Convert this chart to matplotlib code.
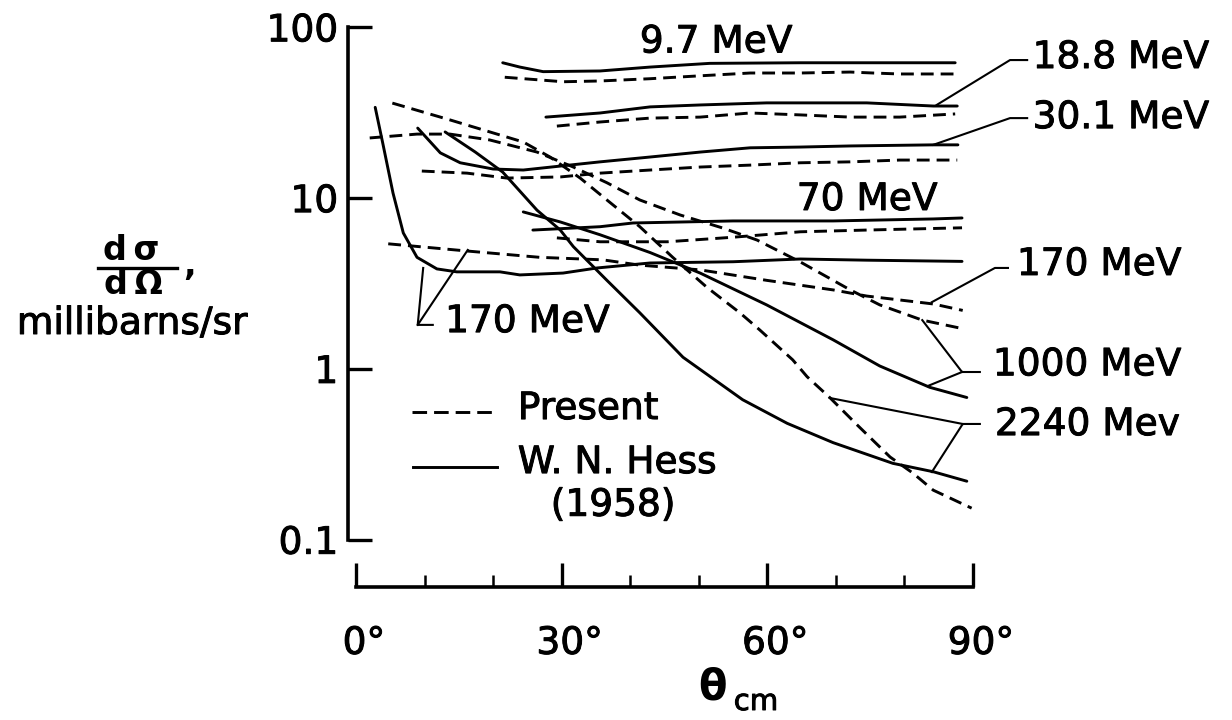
import matplotlib
matplotlib.use("Agg")
import matplotlib.pyplot as plt
from matplotlib.lines import Line2D
import matplotlib.transforms as mtransforms
import matplotlib.patheffects as pe

plt.rcParams['font.family'] = ['DejaVu Sans']

# ---------------- data (theta in degrees, d(sigma)/d(Omega) in mb/sr) ----------------
# W. N. Hess (1958) -- solid curves
hess_9_7_theta = [21.4, 23.9, 27.3, 35.6, 42.9, 51.6, 64.8, 79.3, 87.4]
hess_9_7_val = [62, 58.5, 55, 55.5, 58.5, 61.5, 62, 62, 62]

hess_18_8_theta = [27.7, 35.6, 42.9, 50.2, 59.9, 74.5, 84.2, 87.7]
hess_18_8_val = [29.8, 31.5, 34.2, 35.1, 36.1, 36.1, 34.6, 34.6]

hess_30_1_theta = [9.0, 12.3, 15.2, 20.0, 24.4, 29.8, 35.6, 42.9, 50.2, 57.5, 64.8, 72.1, 84.2, 87.8]
hess_30_1_val = [25.7, 18.4, 16.1, 14.8, 14.6, 15.4, 16.3, 17.4, 18.6, 19.7, 19.9, 20.2, 20.5, 20.5]

hess_70_theta = [25.8, 35.6, 40.4, 55.0, 69.6, 84.2, 88.4]
hess_70_val = [6.5, 6.8, 7.15, 7.35, 7.35, 7.55, 7.65]

hess_170_theta = [2.8, 3.9, 5.4, 6.9, 8.9, 11.8, 14.7, 21.0, 23.9, 30.2, 35.2, 42.9, 55.0, 64.8, 74.5, 88.4]
hess_170_val = [34, 21, 10.7, 6.25, 4.5, 3.85, 3.7, 3.7, 3.55, 3.64, 3.9, 4.17, 4.24, 4.4, 4.33, 4.26]

hess_1000_theta = [24.4, 29.8, 35.6, 42.9, 50.2, 59.9, 69.6, 76.4, 83.7, 89.1]
hess_1000_val = [8.3, 7.25, 6.1, 4.8, 3.64, 2.37, 1.48, 1.04, 0.78, 0.68]

hess_2240_theta = [13.0, 17.4, 21.4, 26.4, 29.8, 31.7, 36.6, 41.4, 47.7, 56.4, 62.9, 69.6, 78.3, 84.2, 89.1]
hess_2240_val = [24.4, 18.6, 14.2, 8.5, 6.5, 5.2, 3.3, 2.13, 1.17, 0.66, 0.48, 0.37, 0.28, 0.25, 0.22]

# Present work -- dashed curves
pres_9_7_theta = [21.7, 30.2, 35.6, 42.9, 50.2, 57.5, 64.8, 72.1, 75.4, 79.3, 87.4]
pres_9_7_val = [51, 48, 48.5, 50, 52, 54, 54, 54.7, 54, 53.3, 53.3]

pres_18_8_theta = [29.3, 35.6, 42.9, 50.2, 57.5, 64.8, 72.1, 79.3, 87.4]
pres_18_8_val = [26.4, 27.9, 29.4, 29.8, 31.5, 30.7, 29.8, 29.8, 31.1]

pres_30_1_theta = [9.6, 16.2, 22.0, 29.8, 35.6, 42.9, 50.2, 57.5, 64.8, 72.1, 79.3, 87.7]
pres_30_1_val = [14.4, 14.0, 13.1, 13.3, 14.0, 14.6, 15.2, 15.6, 16.1, 16.3, 16.7, 16.7]

pres_70_theta = [29.3, 35.6, 45.4, 55.0, 64.8, 74.5, 88.4]
pres_70_val = [5.85, 5.55, 5.55, 5.9, 6.35, 6.5, 6.7]

pres_170_theta = [4.7, 16.2, 26.8, 36.0, 41.4, 50.2, 59.9, 69.6, 74.5, 84.2, 88.5]
pres_170_val = [5.4, 4.9, 4.5, 4.35, 4.05, 3.8, 3.3, 2.9, 2.67, 2.4, 2.2]

pres_1000_theta = [2.0, 8.9, 13.7, 19.5, 26.4, 31.7, 36.6, 41.4, 47.3, 53.5, 58.5, 64.8, 72.1, 76.4, 82.6, 88.8]
pres_1000_val = [22.5, 23.7, 23.7, 21.9, 18.6, 15.2, 12.3, 9.75, 7.96, 6.68, 5.68, 4.23, 2.90, 2.37, 1.93, 1.71]

pres_2240_theta = [5.3, 13.7, 24.4, 28.3, 32.7, 36.6, 41.4, 46.2, 51.2, 56.0, 58.9, 63.7, 65.8,
                   69.1, 73.1, 77.9, 81.2, 84.2, 89.8]
pres_2240_val = [36, 28.7, 21.3, 17.4, 13.1, 9.75, 6.8, 4.5, 3.0, 2.13, 1.69, 1.13, 0.90,
                 0.68, 0.47, 0.305, 0.246, 0.195, 0.153]

# energy labels: text, anchor (theta, value)
label_texts = ["9.7 MeV", "18.8 MeV", "30.1 MeV", "70 MeV", "170 MeV", "1000 MeV", "2240 Mev", "170 MeV"]
label_theta = [41.4, 98.7, 98.7, 64.3, 96.4, 92.9, 93.2, 13.0]
label_val = [81.5, 66.1, 29.4, 9.75, 4.06, 1.05, 0.469, 1.88]

# leader lines: list of polylines (theta list, value list)
leader_theta = [[97.9, 95.4, 84.7],
                [97.9, 95.4, 84.2],
                [95.1, 93.2, 84.0],
                [91.0, 88.4, 82.6], [88.4, 83.4],
                [91.0, 88.5, 84.0], [88.5, 69.1],
                [11.2, 9.0, 9.8], [9.0, 16.3]]
leader_val = [[64.3, 64.3, 35.1],
              [29.4, 29.4, 20.5],
              [3.90, 3.90, 2.46],
              [0.959, 0.959, 1.93], [0.959, 0.794],
              [0.476, 0.476, 0.249], [0.476, 0.676],
              [1.81, 1.81, 3.90], [1.81, 4.97]]

y_ticks = [0.1, 1, 10, 100]
y_tick_labels = ["0.1", "1", "10", "100"]
x_ticks = [0, 30, 60, 90]
x_tick_labels = ["0°", "30°", "60°", "90°"]
x_minor = [10, 20, 40, 50, 70, 80]

# ---------------- figure ----------------
W, H = 1232, 720
fig = plt.figure(figsize=(W / 100, H / 100), dpi=100)
ax = fig.add_axes([356 / W, 1 - 539.7 / H, 617 / W, 512.4 / H])
ax.set_yscale('log')
ax.set_xlim(0, 90)
ax.set_ylim(0.1, 100)

LW = 2.1
DASH = (4.4, 2.4)
solid = [(hess_9_7_theta, hess_9_7_val), (hess_18_8_theta, hess_18_8_val),
         (hess_30_1_theta, hess_30_1_val), (hess_70_theta, hess_70_val),
         (hess_170_theta, hess_170_val), (hess_1000_theta, hess_1000_val),
         (hess_2240_theta, hess_2240_val)]
dashed = [(pres_9_7_theta, pres_9_7_val), (pres_18_8_theta, pres_18_8_val),
          (pres_30_1_theta, pres_30_1_val), (pres_70_theta, pres_70_val),
          (pres_170_theta, pres_170_val), (pres_1000_theta, pres_1000_val),
          (pres_2240_theta, pres_2240_val)]
for t, v in solid:
    ax.plot(t, v, color='black', lw=LW, solid_capstyle='round', solid_joinstyle='round')
for t, v in dashed:
    ax.plot(t, v, color='black', lw=LW, linestyle=(0, DASH))

for t, v in zip(leader_theta, leader_val):
    ax.plot(t, v, color='black', lw=1.5, clip_on=False)

FS = 27
heavy = [pe.withStroke(linewidth=0.7, foreground='black')]
for txt, t, v in zip(label_texts, label_theta, label_val):
    ax.text(t, v, txt, fontsize=FS, ha='left', va='center', clip_on=False, path_effects=heavy)

# legend (drawn by hand like the original)
ax.plot([8.2, 20.6], [0.559, 0.559], color='black', lw=LW, linestyle=(0, (5.0, 2.4)))
ax.plot([8.3, 20.6], [0.266, 0.266], color='black', lw=LW)
ax.text(23.6, 0.582, "Present", fontsize=FS, ha='left', va='center', path_effects=heavy)
ax.text(23.6, 0.281, "W. N. Hess", fontsize=FS, ha='left', va='center', path_effects=heavy)
ax.text(37.5, 0.158, "(1958)", fontsize=FS, ha='center', va='center', path_effects=heavy)

# axes styling
for s in ['top', 'right']:
    ax.spines[s].set_visible(False)
ax.spines['left'].set_position(('outward', 5.8))
ax.spines['bottom'].set_position(('outward', 34))
ax.spines['left'].set_bounds(0.1, 100)
ax.spines['bottom'].set_bounds(0, 90)
ax.spines['left'].set_linewidth(2.6)
ax.spines['bottom'].set_linewidth(2.6)

ax.set_yticks(y_ticks)
ax.set_yticklabels(y_tick_labels)
ax.yaxis.set_minor_locator(matplotlib.ticker.NullLocator())
ax.set_xticks(x_ticks)
ax.set_xticklabels(x_tick_labels)
ax.set_xticks(x_minor, minor=True)
ax.tick_params(axis='y', which='major', direction='in', length=17, width=2.4, pad=7, labelsize=FS)
ax.tick_params(axis='x', which='major', direction='in', length=17, width=2.4, pad=28, labelsize=FS)
ax.tick_params(axis='x', which='minor', direction='in', length=9, width=1.8)
offset = mtransforms.ScaledTranslation(8 / 100, 0, fig.dpi_scale_trans)
for lab in ax.get_xticklabels():
    lab.set_transform(lab.get_transform() + offset)
    lab.set_path_effects(heavy)
for lab in ax.get_yticklabels():
    lab.set_path_effects(heavy)

# y-axis label: fraction d sigma / d Omega
def fx(px):
    return px / W

def fy(py):
    return 1 - py / H

fig.text(fx(131), fy(251), "d\u2009σ", fontsize=24, fontweight='bold', ha='center', va='center')
fig.add_artist(Line2D([fx(98), fx(177)], [fy(268), fy(268)], color='black', lw=2.4))
fig.text(fx(133), fy(285), "d\u2009Ω", fontsize=24, fontweight='bold', ha='center', va='center')
fig.text(fx(190), fy(266), ",", fontsize=24, fontweight='bold', ha='center', va='center')
fig.text(fx(132), fy(324), "millibarns/sr", fontsize=FS, ha='center', va='center', path_effects=heavy)

# x-axis label: theta_cm
fig.text(fx(713), fy(688), "θ", fontsize=30, fontweight='bold', ha='center', va='center')
fig.text(fx(756), fy(702), "cm", fontsize=21, ha='center', va='center', path_effects=heavy)

fig.savefig("out.png", dpi=100)
